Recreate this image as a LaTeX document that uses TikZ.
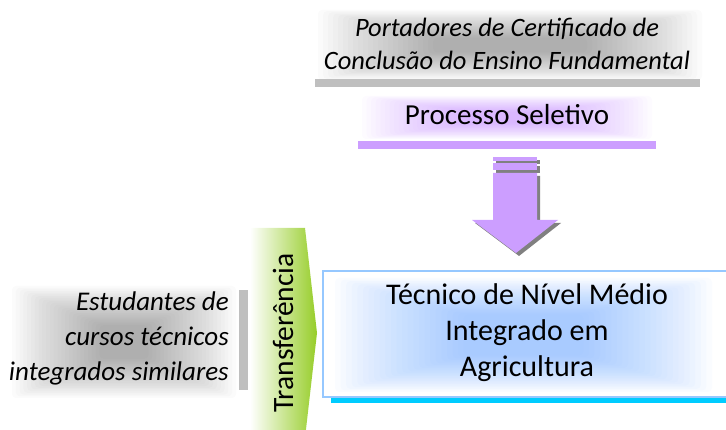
\documentclass[tikz,border=0pt]{standalone}
\usepackage{fontspec}
\setmainfont{Carlito}
\usetikzlibrary{shadings}
\definecolor{purp}{RGB}{204,158,255}
\definecolor{glowpurp}{RGB}{185,120,255}
\definecolor{shadowgray}{RGB}{128,128,128}
\definecolor{bargray}{RGB}{191,191,191}
\definecolor{boxblue}{RGB}{150,200,255}
\definecolor{cyanbar}{RGB}{0,204,255}
\definecolor{chevgreen}{RGB}{150,205,40}
\definecolor{glowblue}{RGB}{110,175,255}
% \myglow{color}{opacity per layer}{x1}{y1}{x2}{y2}{dx}{dy}
\newcommand\myglow[8]{%
  \foreach \i in {0,...,23}{%
    \fill[#1,opacity=#2,rounded corners=4pt] ({#3+\i*#7},{#4+\i*#8}) rectangle ({#5-\i*#7},{#6-\i*#8});
  }}
\tikzset{
  italtext/.style={align=center,font=\fontsize{26.5}{33}\selectfont\itshape,text=black,inner sep=0pt},
  lefttext/.style={align=right,font=\fontsize{27}{35}\selectfont\itshape,text=black,inner sep=0pt},
  boxtext/.style={align=center,font=\fontsize{30}{36}\selectfont,text=black,inner sep=0pt},
  seltext/.style={font=\fontsize{29}{32}\selectfont,text=black,inner sep=0pt},
  transtext/.style={font=\fontsize{29.5}{32}\selectfont,text=black,inner sep=0pt,rotate=90},
}
\begin{document}
\begin{tikzpicture}[x=1pt,y=-1pt]
\useasboundingbox (0,0) rectangle (726,430);
% top glow + text
\myglow{black}{0.016}{318}{10}{702}{80}{5}{1.2}
\node[italtext] (portadores) at (507,44) {Portadores de Certificado de\\Conclusão do Ensino Fundamental};
\fill[bargray] (315,79) rectangle (700,87);
% processo seletivo
\myglow{glowpurp}{0.03}{362}{96}{652}{139}{4.6}{0.7}
\node[seltext] (processo) at (507,115) {Processo Seletivo};
\fill[purp] (358,141) rectangle (656,149);
% arrow shadow
\begin{scope}[shift={(3,3)}]
\fill[shadowgray] (493,157) rectangle (537,161);
\fill[shadowgray] (493,163) rectangle (537,170);
\fill[shadowgray] (493,173) -- (537,173) -- (537,220) -- (558,220) -- (516,253) -- (472,220) -- (493,220) -- cycle;
\end{scope}
% arrow
\fill[purp] (493,157) rectangle (537,161);
\fill[purp] (493,163) rectangle (537,170);
\fill[purp] (493,173) -- (537,173) -- (537,220) -- (558,220) -- (516,253) -- (472,220) -- (493,220) -- cycle;
% main box
\fill[cyanbar] (331,396) rectangle (740,403);
\fill[white] (323,271) rectangle (740,397);
\myglow{glowblue}{0.03}{335}{278}{712}{392}{5.6}{1.6}
\draw[boxblue,line width=1.3pt] (323,271) rectangle (740,397);
\node[boxtext] (tecnico) at (527,333) {Técnico de Nível Médio\\Integrado em\\Agricultura};
% left text
\myglow{black}{0.016}{12}{286}{236}{398}{3.8}{1.7}
\node[lefttext,anchor=east] (estudantes) at (229,338) {Estudantes de\\cursos técnicos\\integrados similares};
\fill[bargray] (239,290) rectangle (248,390);
% chevron
\shade[left color=white,right color=chevgreen] (250,228) -- (305,228) -- (317,333) -- (305,438) -- (250,438) -- cycle;
\node[transtext] (transf) at (283,333) {Transferência};
\end{tikzpicture}
\end{document}
